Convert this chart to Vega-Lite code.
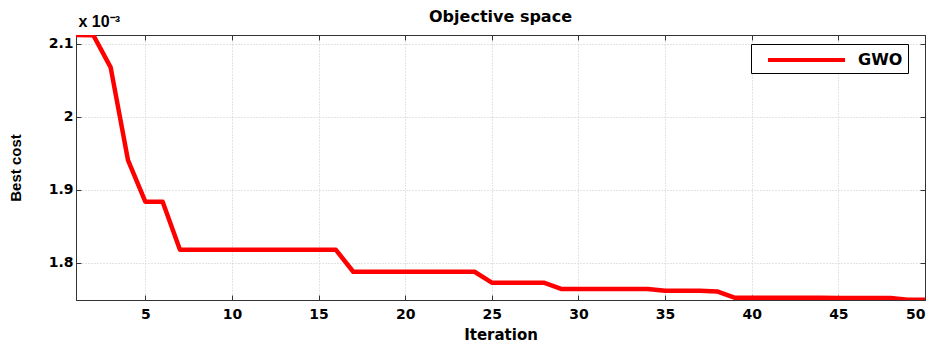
{
  "$schema": "https://vega.github.io/schema/vega-lite/v6.json",
  "width": 849,
  "height": 265,
  "autosize": "none",
  "padding": {"left": 76, "top": 35, "right": 10, "bottom": 44},
  "background": "white",
  "title": {"text": "Objective space", "font": "DejaVu Sans", "fontSize": 16, "fontWeight": "bold", "color": "black", "anchor": "middle", "offset": -12},
  "data": {"values": [
    {"iteration": 1, "cost": 0.0021123, "series": "GWO"},
    {"iteration": 2, "cost": 0.0021120, "series": "GWO"},
    {"iteration": 3, "cost": 0.0020680, "series": "GWO"},
    {"iteration": 4, "cost": 0.0019410, "series": "GWO"},
    {"iteration": 5, "cost": 0.0018840, "series": "GWO"},
    {"iteration": 6, "cost": 0.0018840, "series": "GWO"},
    {"iteration": 7, "cost": 0.0018180, "series": "GWO"},
    {"iteration": 8, "cost": 0.0018180, "series": "GWO"},
    {"iteration": 9, "cost": 0.0018180, "series": "GWO"},
    {"iteration": 10, "cost": 0.0018180, "series": "GWO"},
    {"iteration": 11, "cost": 0.0018180, "series": "GWO"},
    {"iteration": 12, "cost": 0.0018180, "series": "GWO"},
    {"iteration": 13, "cost": 0.0018180, "series": "GWO"},
    {"iteration": 14, "cost": 0.0018180, "series": "GWO"},
    {"iteration": 15, "cost": 0.0018180, "series": "GWO"},
    {"iteration": 16, "cost": 0.0018180, "series": "GWO"},
    {"iteration": 17, "cost": 0.0017880, "series": "GWO"},
    {"iteration": 18, "cost": 0.0017880, "series": "GWO"},
    {"iteration": 19, "cost": 0.0017880, "series": "GWO"},
    {"iteration": 20, "cost": 0.0017880, "series": "GWO"},
    {"iteration": 21, "cost": 0.0017880, "series": "GWO"},
    {"iteration": 22, "cost": 0.0017880, "series": "GWO"},
    {"iteration": 23, "cost": 0.0017880, "series": "GWO"},
    {"iteration": 24, "cost": 0.0017880, "series": "GWO"},
    {"iteration": 25, "cost": 0.0017730, "series": "GWO"},
    {"iteration": 26, "cost": 0.0017730, "series": "GWO"},
    {"iteration": 27, "cost": 0.0017730, "series": "GWO"},
    {"iteration": 28, "cost": 0.0017730, "series": "GWO"},
    {"iteration": 29, "cost": 0.0017645, "series": "GWO"},
    {"iteration": 30, "cost": 0.0017645, "series": "GWO"},
    {"iteration": 31, "cost": 0.0017645, "series": "GWO"},
    {"iteration": 32, "cost": 0.0017645, "series": "GWO"},
    {"iteration": 33, "cost": 0.0017645, "series": "GWO"},
    {"iteration": 34, "cost": 0.0017645, "series": "GWO"},
    {"iteration": 35, "cost": 0.0017620, "series": "GWO"},
    {"iteration": 36, "cost": 0.0017620, "series": "GWO"},
    {"iteration": 37, "cost": 0.0017620, "series": "GWO"},
    {"iteration": 38, "cost": 0.0017610, "series": "GWO"},
    {"iteration": 39, "cost": 0.0017525, "series": "GWO"},
    {"iteration": 40, "cost": 0.0017525, "series": "GWO"},
    {"iteration": 41, "cost": 0.0017525, "series": "GWO"},
    {"iteration": 42, "cost": 0.0017525, "series": "GWO"},
    {"iteration": 43, "cost": 0.0017525, "series": "GWO"},
    {"iteration": 44, "cost": 0.0017525, "series": "GWO"},
    {"iteration": 45, "cost": 0.0017520, "series": "GWO"},
    {"iteration": 46, "cost": 0.0017520, "series": "GWO"},
    {"iteration": 47, "cost": 0.0017520, "series": "GWO"},
    {"iteration": 48, "cost": 0.0017520, "series": "GWO"},
    {"iteration": 49, "cost": 0.0017495, "series": "GWO"},
    {"iteration": 50, "cost": 0.0017495, "series": "GWO"}
  ]},
  "layer": [
    {
      "mark": {"type": "line", "strokeWidth": 4.5, "clip": true, "strokeJoin": "round"},
      "encoding": {
        "x": {"field": "iteration", "type": "quantitative",
          "scale": {"domain": [1, 50], "nice": false, "zero": false},
          "axis": {"orient": "bottom", "title": "Iteration", "values": [5, 10, 15, 20, 25, 30, 35, 40, 45, 50], "grid": true, "titlePadding": 6, "labelPadding": 12}},
        "y": {"field": "cost", "type": "quantitative",
          "scale": {"domain": [0.0017493, 0.0021123], "nice": false, "zero": false},
          "axis": {"orient": "left", "title": "Best cost", "values": [0.0018, 0.0019, 0.002, 0.0021], "grid": true,
            "labelExpr": "format(datum.value * 1000, '.2~f')", "titlePadding": 25, "titleFontSize": 15, "titleFont": "Liberation Sans"}},
        "color": {"field": "series", "type": "nominal",
          "scale": {"domain": ["GWO"], "range": ["#ff0000"]},
          "legend": {"orient": "none", "legendX": 675, "legendY": 9, "title": null,
            "symbolType": "M0.11,0H8.67", "symbolSize": 324, "symbolStrokeWidth": 4,
            "strokeColor": "black", "fillColor": "white", "padding": 5,
            "labelExpr": "datum.label + '   '",
            "labelFont": "DejaVu Sans", "labelFontSize": 16, "labelFontWeight": "bold", "labelColor": "black", "labelOffset": 80}}
      }
    },
    {
      "mark": {"type": "line", "opacity": 0},
      "encoding": {
        "x": {"field": "iteration", "type": "quantitative",
          "axis": {"orient": "top", "title": "x 10⁻³", "labels": false, "grid": false,
            "values": [5, 10, 15, 20, 25, 30, 35, 40, 45, 50],
            "titleAnchor": "start", "titleAlign": "left", "titleBaseline": "alphabetic", "titleX": 2, "titleY": -9, "titleFontSize": 16, "titleFont": "Liberation Sans", "titleFontWeight": "bold"}},
        "y": {"field": "cost", "type": "quantitative",
          "axis": {"orient": "right", "title": null, "labels": false, "grid": false,
            "values": [0.0018, 0.0019, 0.002, 0.0021]}}
      }
    }
  ],
  "resolve": {"axis": {"x": "independent", "y": "independent"}},
  "config": {
    "view": {"stroke": "#333", "strokeWidth": 1},
    "axis": {
      "labelFont": "DejaVu Sans", "labelFontWeight": "bold", "labelFontSize": 14, "labelColor": "black",
      "titleFont": "DejaVu Sans", "titleFontWeight": "bold", "titleFontSize": 15, "titleColor": "black",
      "domainColor": "#333", "tickColor": "#333", "tickSize": -5, "labelPadding": 8,
      "gridColor": "#c8c8c8", "gridDash": [1, 2], "gridWidth": 1
    }
  }
}
